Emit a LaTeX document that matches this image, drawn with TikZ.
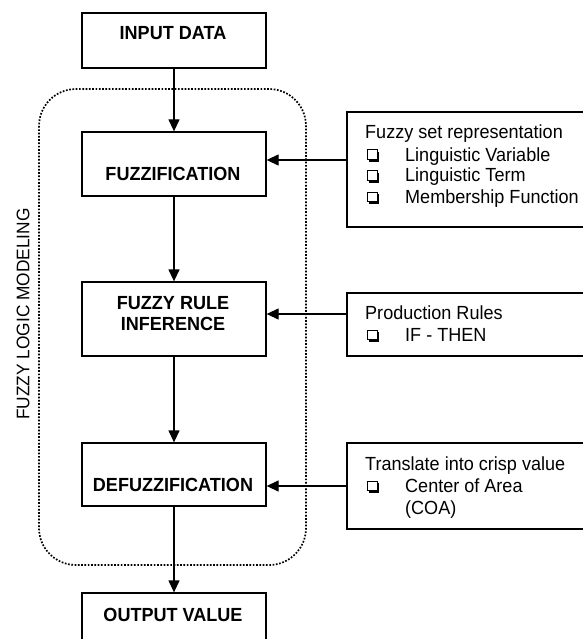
\documentclass[tikz,border=0pt]{standalone}
\usepackage{fontspec}
\setmainfont{Liberation Sans}[FakeStretch=0.95]
\usetikzlibrary{arrows.meta}
\begin{document}
\begin{tikzpicture}[x=1pt,y=-1pt,
  box/.style={draw, line width=1.3pt, minimum width=184pt, inner sep=0pt},
  sidebox/.style={draw, line width=1.3pt, minimum width=253pt, inner sep=0pt},
  btxt/.style={font=\fontsize{19pt}{22pt}\selectfont\bfseries, anchor=base, inner sep=0pt},
  stxt/.style={font=\fontsize{19pt}{22pt}\selectfont, anchor=base west, inner sep=0pt},
  arr/.style={line width=1.3pt, -{Triangle[length=12pt,width=11pt]}},
  chk/.pic={
    \fill (2.2,-9) rectangle (12,0.6);
    \filldraw[fill=white, line width=1pt] (0,-11) rectangle (10,-1.2);
  }
]
\useasboundingbox (0,0) rectangle (582,639);
% frame of the modeling stage
\draw[line width=1.7pt, dash pattern=on 1.7pt off 1.6pt, rounded corners=37pt] (39,89) rectangle (306,565);
\node[rotate=90, font=\fontsize{18.2pt}{20pt}\selectfont, inner sep=0pt] (lab) at (23,314) {FUZZY LOGIC MODELING};
% main boxes
\node[box, minimum height=55pt] (in) at (174,40.5) {};
\node[btxt] (in-t) at (173,39.5) {INPUT DATA};
\node[box, minimum height=64pt] (fz) at (174,164) {};
\node[btxt] (fz-t) at (173,180) {FUZZIFICATION};
\node[box, minimum height=74pt] (ru) at (174,319) {};
\node[btxt] (ru-t1) at (173,309) {FUZZY RULE};
\node[btxt] (ru-t2) at (173,330.5) {INFERENCE};
\node[box, minimum height=63pt] (df) at (174,474.5) {};
\node[btxt] (df-t) at (173,491) {DEFUZZIFICATION};
\node[box, minimum height=60pt] (out) at (174,623) {};
\node[btxt] (out-t) at (173,621.5) {OUTPUT VALUE};
% side boxes
\node[sidebox, minimum height=115pt] (s1) at (473.5,169.5) {};
\node[stxt] (s1-t0) at (365,139) {Fuzzy set representation};
\node[stxt] (s1-t1) at (405,161) {Linguistic Variable};
\node[stxt] (s1-t2) at (405,182) {Linguistic Term};
\node[stxt] (s1-t3) at (405,203) {Membership Function};
\pic at (367,161) {chk};
\pic at (367,182) {chk};
\pic at (367,203) {chk};
\node[sidebox, minimum height=63pt] (s2) at (473.5,324.5) {};
\node[stxt] (s2-t0) at (365,319) {Production Rules};
\node[stxt] (s2-t1) at (405,341) {IF - THEN};
\pic at (367,341) {chk};
\node[sidebox, minimum height=86pt] (s3) at (473.5,486) {};
\node[stxt] (s3-t0) at (365,470) {Translate into crisp value};
\node[stxt] (s3-t1) at (405,492) {Center of Area};
\node[stxt] (s3-t2) at (405,514) {(COA)};
\pic at (367,492) {chk};
% connectors
\draw[arr] (in) -- (fz);
\draw[arr] (fz) -- (ru);
\draw[arr] (ru) -- (df);
\draw[arr] (df) -- (out);
\coordinate (a1) at ([yshift=4pt]fz.east);
\coordinate (a2) at ([yshift=5pt]ru.east);
\coordinate (a3) at ([yshift=-11.5pt]df.east);
\draw[arr] (s1.west |- a1) -- (a1);
\draw[arr] (s2.west |- a2) -- (a2);
\draw[arr] (s3.west |- a3) -- (a3);
\end{tikzpicture}
\end{document}
